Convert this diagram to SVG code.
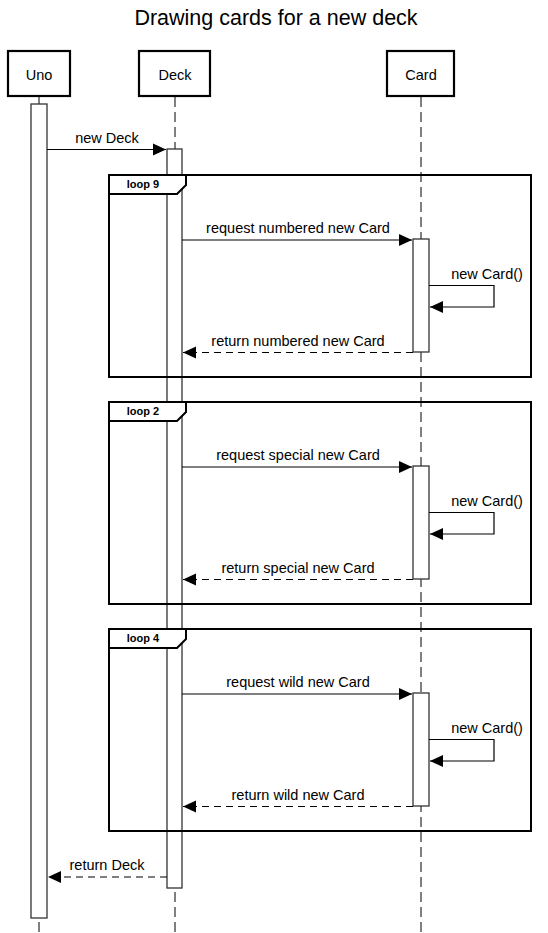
<svg xmlns="http://www.w3.org/2000/svg" width="548" height="933" viewBox="0 0 548 933">
<style>
text{font-family:"Liberation Sans",Arial,sans-serif;fill:#000}
.title{font-size:21.5px}
.lbl{font-size:14.5px}
.tab{font-size:11px;font-weight:bold}
.actor{fill:#fff;stroke:#000;stroke-width:2.2}
.life{stroke:#000;stroke-width:1;stroke-dasharray:10 5;fill:none}
.act{fill:#fff;stroke:#333;stroke-width:1.3}
.msg{stroke:#000;stroke-width:1.2;fill:none}
.ret{stroke:#000;stroke-width:1.2;fill:none;stroke-dasharray:7 5}
.frame{fill:none;stroke:#000;stroke-width:2}
.ftab{fill:#fff;stroke:#000;stroke-width:2}
</style>
<defs>
<marker id="ah" markerUnits="userSpaceOnUse" markerWidth="14" markerHeight="14" viewBox="0 0 14 14" refX="13" refY="7" orient="auto">
<path d="M0,1 L13,7 L0,13 Z" fill="#000"/>
</marker>
</defs>
<rect width="548" height="933" fill="#fff"/>
<text class="title" x="276" y="25" text-anchor="middle">Drawing cards for a new deck</text>

<g id="lifelines">
<line class="life" x1="39" y1="97" x2="39" y2="933"/>
<line class="life" x1="175" y1="97" x2="175" y2="933"/>
<line class="life" x1="421" y1="97" x2="421" y2="933"/>
</g>

<g id="Uno">
<rect class="actor" x="8" y="51" width="62" height="45"/>
<text class="lbl" x="39" y="80" text-anchor="middle">Uno</text>
<rect class="act" x="31" y="104" width="16" height="814"/>
</g>
<g id="Deck">
<rect class="actor" x="139" y="51" width="71" height="45"/>
<text class="lbl" x="175" y="80" text-anchor="middle">Deck</text>
<rect class="act" x="167" y="149" width="15" height="739"/>
</g>
<g id="Card">
<rect class="actor" x="387" y="51" width="67" height="45"/>
<text class="lbl" x="421" y="80" text-anchor="middle">Card</text>
<rect class="act" x="413" y="239" width="16" height="113"/>
<rect class="act" x="413" y="466" width="16" height="113"/>
<rect class="act" x="413" y="693" width="16" height="113"/>
</g>

<g id="loop9">
<rect class="frame" x="109" y="175" width="422" height="202"/>
<path class="ftab" d="M109,175 H186 V185 L177,194 H109 Z"/>
<text class="tab" x="143" y="188" text-anchor="middle">loop 9</text>
</g>
<g id="loop2">
<rect class="frame" x="109" y="402" width="422" height="202"/>
<path class="ftab" d="M109,402 H186 V412 L177,421 H109 Z"/>
<text class="tab" x="143" y="415" text-anchor="middle">loop 2</text>
</g>
<g id="loop4">
<rect class="frame" x="109" y="629" width="422" height="202"/>
<path class="ftab" d="M109,629 H186 V639 L177,648 H109 Z"/>
<text class="tab" x="143" y="642" text-anchor="middle">loop 4</text>
</g>

<g id="connectors">
<line class="msg" x1="47" y1="149.5" x2="166" y2="149.5" marker-end="url(#ah)"/>
<text class="lbl" x="107" y="143" text-anchor="middle">new Deck</text>

<line class="msg" x1="182" y1="240" x2="412" y2="240" marker-end="url(#ah)"/>
<text class="lbl" x="298" y="233" text-anchor="middle">request numbered new Card</text>
<path class="msg" d="M429,285.5 H494 V307 H430" marker-end="url(#ah)"/>
<text class="lbl" x="487" y="279" text-anchor="middle">new Card()</text>
<line class="ret" x1="413" y1="352.5" x2="183" y2="352.5" marker-end="url(#ah)"/>
<text class="lbl" x="298" y="346" text-anchor="middle">return numbered new Card</text>

<line class="msg" x1="182" y1="467" x2="412" y2="467" marker-end="url(#ah)"/>
<text class="lbl" x="298" y="460" text-anchor="middle">request special new Card</text>
<path class="msg" d="M429,512.5 H494 V534 H430" marker-end="url(#ah)"/>
<text class="lbl" x="487" y="506" text-anchor="middle">new Card()</text>
<line class="ret" x1="413" y1="579.5" x2="183" y2="579.5" marker-end="url(#ah)"/>
<text class="lbl" x="298" y="573" text-anchor="middle">return special new Card</text>

<line class="msg" x1="182" y1="694" x2="412" y2="694" marker-end="url(#ah)"/>
<text class="lbl" x="298" y="687" text-anchor="middle">request wild new Card</text>
<path class="msg" d="M429,739.5 H494 V761 H430" marker-end="url(#ah)"/>
<text class="lbl" x="487" y="733" text-anchor="middle">new Card()</text>
<line class="ret" x1="413" y1="806.5" x2="183" y2="806.5" marker-end="url(#ah)"/>
<text class="lbl" x="298" y="800" text-anchor="middle">return wild new Card</text>

<line class="ret" x1="167" y1="877" x2="48" y2="877" marker-end="url(#ah)"/>
<text class="lbl" x="107" y="870" text-anchor="middle">return Deck</text>
</g>
</svg>
